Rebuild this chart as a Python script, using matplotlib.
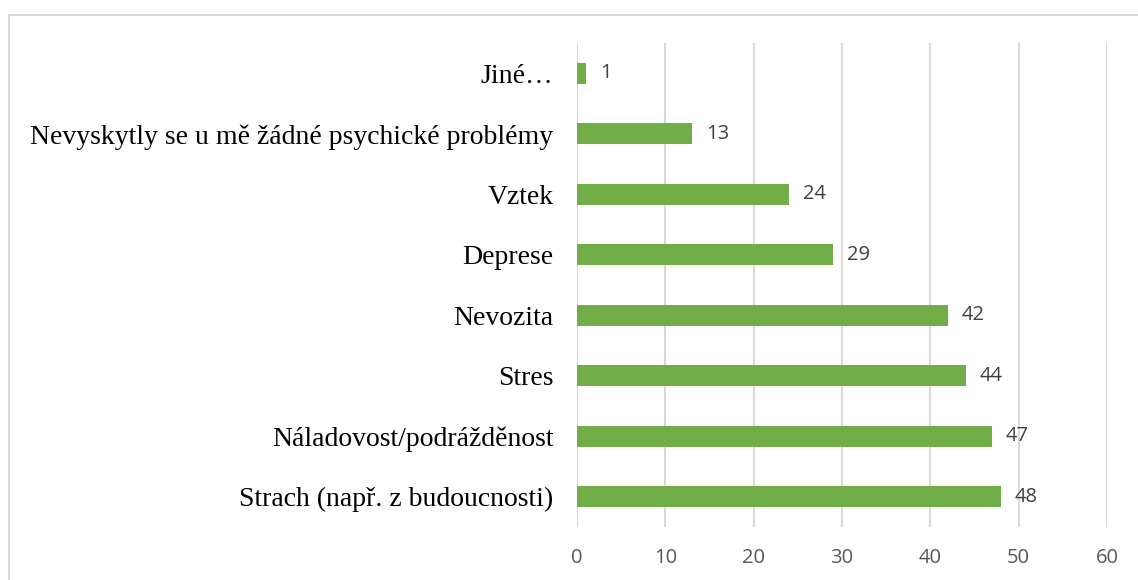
import matplotlib
matplotlib.use("Agg")
import matplotlib.pyplot as plt
from matplotlib.patches import Rectangle

categories = [
    "Strach (např. z budoucnosti)",
    "Náladovost/podrážděnost",
    "Stres",
    "Nevozita",
    "Deprese",
    "Vztek",
    "Nevyskytly se u mě žádné psychické problémy",
    "Jiné…",
]
values = [48, 47, 44, 42, 29, 24, 13, 1]
xticks = [0, 10, 20, 30, 40, 50, 60]

W, H = 1138, 580
fig = plt.figure(figsize=(W / 100, H / 100), dpi=100)
fig.patch.set_facecolor("white")

# chart-area frame (runs off the right and bottom edges)
fig.add_artist(Rectangle((8.5 / W, -0.05), 1.2, 1 - 14.5 / H + 0.05,
                         transform=fig.transFigure, fill=False,
                         edgecolor="#D9D9D9", linewidth=1.5))

ax = fig.add_axes([577 / W, 1 - 527 / H, (1107 - 577) / W, (527 - 43) / H])
pos = list(range(len(categories)))
ax.barh(pos, values, height=0.35, color="#70AD47", zorder=3)

ax.set_xlim(0, 60)
ax.set_ylim(-0.5, len(categories) - 0.5)
ax.set_xticks(xticks)
ax.set_xticklabels([str(t) for t in xticks], fontfamily="Open Sans",
                   fontsize=14.5, color="#595959")
ax.tick_params(axis="x", length=0, pad=15)
ax.set_yticks(pos)
ax.set_yticklabels(categories, fontfamily="Liberation Serif", fontsize=20,
                   color="black")
ax.tick_params(axis="y", length=0, pad=17)

ax.grid(axis="x", color="#D9D9D9", linewidth=1.5, zorder=0)
for s in ax.spines.values():
    s.set_visible(False)

for p, v in zip(pos, values):
    ax.annotate(str(v), (v, p), xytext=(10, 0), textcoords="offset points",
                va="center", ha="left", fontfamily="Open Sans", fontsize=14.5,
                color="#404040")

fig.savefig("out.png", dpi=100)
